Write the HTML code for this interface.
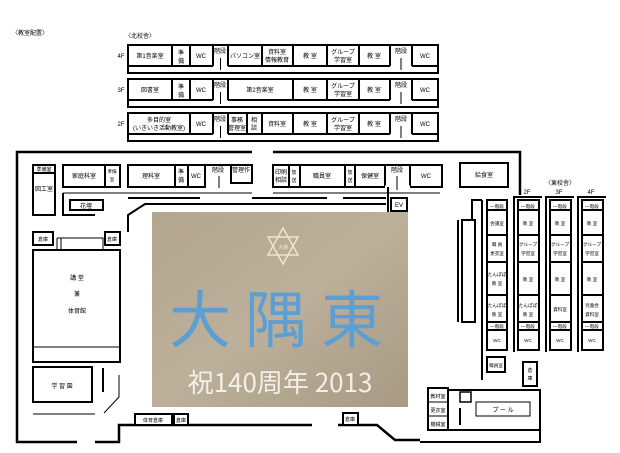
<!DOCTYPE html>
<html><head><meta charset="utf-8"><style>
html,body{margin:0;padding:0;background:#fff;}
svg{display:block}
text{font-family:"Liberation Sans","Noto Sans CJK JP",sans-serif;font-size:6px;fill:#000;text-anchor:middle}
.e text{font-size:4.6px}
.r{fill:#fff;stroke:#000;stroke-width:2}
.l{stroke:#000;stroke-width:2;fill:none}
.t{stroke:#000;stroke-width:1;fill:none}
</style></head><body>
<svg width="620" height="453" viewBox="0 0 620 453" xmlns="http://www.w3.org/2000/svg">
<text x="30" y="35" style="font-size:6px">〈教室配置〉</text>
<text x="140" y="38">〈北校舎〉</text>

<g>
<text x="121" y="58">4F</text>
<rect class="r" x="128" y="45" width="310" height="28"/>
<line class="l" x1="128" y1="66" x2="213" y2="66"/><line class="l" x1="228" y1="66" x2="390" y2="66"/><line class="l" x1="412" y1="66" x2="438" y2="66"/>
<path class="l" d="M172 45V66M190 45V66M213 45V66M228 45V66M262 45V66M293 45V66M327 45V66M359 45V66M390 45V66M412 45V66"/>
<line class="t" x1="220.5" y1="58" x2="220.5" y2="70"/><line class="t" x1="401" y1="58" x2="401" y2="70"/>
<text x="150" y="58">第1音楽室</text><text x="181" y="55">準</text><text x="181" y="63">備</text><text x="201" y="58">WC</text><text x="220" y="53">階段</text>
<text x="245" y="58">パソコン室</text><text x="277" y="54">資料室</text><text x="277" y="62">情報教育</text><text x="310" y="58">教 室</text><text x="343" y="54">グループ</text><text x="343" y="62">学習室</text><text x="374" y="58">教 室</text><text x="401" y="53">階段</text><text x="425" y="58">WC</text>
</g>
<g>
<text x="121" y="92">3F</text>
<rect class="r" x="128" y="79" width="310" height="28"/>
<line class="l" x1="128" y1="100" x2="213" y2="100"/><line class="l" x1="228" y1="100" x2="390" y2="100"/><line class="l" x1="412" y1="100" x2="438" y2="100"/>
<path class="l" d="M172 79V100M190 79V100M213 79V100M228 79V100M293 79V100M327 79V100M359 79V100M390 79V100M412 79V100"/>
<line class="t" x1="220.5" y1="92" x2="220.5" y2="104"/><line class="t" x1="401" y1="92" x2="401" y2="104"/>
<text x="150" y="92">図書室</text><text x="181" y="89">準</text><text x="181" y="97">備</text><text x="201" y="92">WC</text><text x="220" y="87">階段</text>
<text x="260" y="92">第2音楽室</text><text x="310" y="92">教 室</text><text x="343" y="88">グループ</text><text x="343" y="96">学習室</text><text x="374" y="92">教 室</text><text x="401" y="87">階段</text><text x="425" y="92">WC</text>
</g>
<g>
<text x="121" y="126">2F</text>
<rect class="r" x="128" y="113" width="310" height="28"/>
<line class="l" x1="128" y1="134" x2="213" y2="134"/><line class="l" x1="228" y1="134" x2="390" y2="134"/><line class="l" x1="412" y1="134" x2="438" y2="134"/>
<path class="l" d="M190 113V134M213 113V134M228 113V134M247 113V134M262 113V134M293 113V134M327 113V134M359 113V134M390 113V134M412 113V134"/>
<line class="t" x1="220.5" y1="126" x2="220.5" y2="138"/><line class="t" x1="401" y1="126" x2="401" y2="138"/>
<text x="159" y="122">多目的室</text><text x="159" y="130">(いきいき活動教室)</text><text x="201" y="126">WC</text><text x="220" y="121">階段</text>
<text x="237" y="122">事務</text><text x="237" y="130">管理室</text><text x="254" y="122">相</text><text x="254" y="130">談</text><text x="277" y="126">資料室</text><text x="310" y="126">教 室</text><text x="343" y="122">グループ</text><text x="343" y="130">学習室</text><text x="374" y="126">教 室</text><text x="401" y="121">階段</text><text x="425" y="126">WC</text>
</g>

<path d="M252 152H17V442H77M95 442H119V425H312M338 425H377L395 440H420" stroke="#000" stroke-width="2.5" fill="none"/>
<path d="M273 152H520V195" stroke="#000" stroke-width="2.5" fill="none"/>

<rect class="r" x="33" y="165" width="22" height="50"/><line class="l" x1="33" y1="173" x2="55" y2="173"/>
<text x="44" y="171" style="font-size:5px">準備室</text><text x="44" y="191">図工室</text>
<rect class="r" x="63" y="165" width="57" height="22"/><line class="l" x1="105" y1="165" x2="105" y2="187"/>
<text x="84" y="178">家庭科室</text><text x="112" y="173" style="font-size:4.5px">準備</text><text x="112" y="181" style="font-size:4.5px">室</text>
<rect class="r" x="128" y="165" width="77" height="22"/><path class="l" d="M175 165V187M188 165V187"/>
<line class="l" x1="205" y1="165" x2="230" y2="165"/>
<line class="t" x1="219" y1="176" x2="219" y2="188"/>
<rect class="r" x="231" y="165" width="21" height="18"/>
<text x="151" y="178">理科室</text><text x="181" y="174">準</text><text x="181" y="182">備</text><text x="196" y="178">WC</text><text x="218" y="172">階段</text><text x="241" y="172">管理作</text>
<rect class="r" x="273" y="165" width="169" height="22"/>
<path class="l" d="M289 165V187M300 165V187M345 165V187M355 165V187M385 165V187M410 165V187"/>
<line x1="385" y1="187" x2="410" y2="187" stroke="#fff" stroke-width="3"/>
<line class="t" x1="397" y1="176" x2="397" y2="190"/>
<text x="281" y="174">印刷</text><text x="281" y="182">相談</text><text x="294" y="174" style="font-size:5px">放</text><text x="294" y="182" style="font-size:5px">送</text>
<text x="322" y="178">職員室</text><text x="350" y="174" style="font-size:5px">放</text><text x="350" y="182" style="font-size:5px">送</text><text x="370" y="178">保健室</text><text x="397" y="172">階段</text><text x="426" y="178">WC</text>
<rect class="r" x="460" y="163" width="48" height="24"/><text x="484" y="177">給食室</text>

<path class="t" d="M63 193H252M273 193H440"/>
<path class="l" d="M128 198H200M252 198H327M343 198H386"/>
<path class="l" d="M63 193V215H95"/>
<rect class="r" x="70" y="200" width="33" height="10"/><text x="86" y="208">花壇</text>
<path class="l" d="M128 232V215L145 204H386"/>
<path class="l" d="M388 187V212"/>
<rect class="r" x="391" y="198" width="16" height="13"/><text x="399" y="207">EV</text>

<rect class="r" x="33" y="232" width="20" height="13"/><text x="43" y="241" style="font-size:5px">倉庫</text>
<rect class="r" x="105" y="232" width="15" height="13"/><text x="112" y="241" style="font-size:5px">倉庫</text>
<path class="t" d="M57 238V250M61 238V250M57 238H103V250"/>
<rect class="r" x="33" y="250" width="87" height="112"/><line class="t" x1="33" y1="347" x2="120" y2="347"/>
<text x="77" y="280">講 堂</text><text x="77" y="296">兼</text><text x="77" y="313">体育館</text>
<rect class="r" x="33" y="367" width="59" height="35"/><text x="62" y="388">学 習 園</text>
<path class="l" d="M103 368V392"/><path class="t" d="M119 375V397L104 413"/>
<path class="t" d="M33 414H95"/>
<rect class="r" x="135" y="414" width="37" height="11"/><text x="153" y="422" style="font-size:5px">体育倉庫</text>
<rect class="r" x="174" y="414" width="14" height="11"/><text x="181" y="422" style="font-size:5px">倉庫</text>
<rect class="r" x="343" y="413" width="15" height="12"/><text x="350" y="421" style="font-size:5px">倉庫</text>

<defs><linearGradient id="g" x1="0" y1="0" x2="1" y2="1"><stop offset="0" stop-color="#b4a68e"/><stop offset="0.5" stop-color="#bcb09b"/><stop offset="1" stop-color="#a89a84"/></linearGradient></defs>
<rect x="152" y="212" width="256" height="195" fill="url(#g)"/>
<g stroke="#eee4d0" stroke-width="1.5" fill="none"><polygon points="283,228 298,255 268,255"/><polygon points="283,264 298,237 268,237"/></g>
<text x="283" y="249" style="font-size:5px;fill:#eee4d0">大隅</text>
<text x="283" y="342" style="font-size:62px;fill:#5d9fd2;font-family:'Noto Sans CJK JP',sans-serif;font-weight:normal;letter-spacing:14px">大隅東</text>
<text x="280" y="392" style="font-size:26px;fill:#f4efe6;font-family:'Noto Sans CJK JP',sans-serif">祝140周年 2013</text>

<path class="l" d="M472 220V200H482"/>
<path class="l" d="M482 200V380"/>
<path class="l" d="M458 220V322"/>
<rect class="r" x="462" y="220" width="13" height="102"/>

<text x="560" y="185">〈東校舎〉</text><text x="527" y="194">2F</text><text x="559" y="194">3F</text><text x="591" y="194">4F</text>

<g class="e">
<rect class="r" x="487" y="200" width="20" height="150"/>
<path class="l" d="M487 210H507M487 235H507M487 262H507M487 295H507M487 322H507M487 330H507"/>
<text x="497" y="208">一階段</text><text x="497" y="225">会議室</text><text x="497" y="246">職 員</text><text x="497" y="255">更衣室</text>
<text x="497" y="276">たんぽぽ</text><text x="497" y="285">教 室</text><text x="497" y="307">たんぽぽ</text><text x="497" y="316">教 室</text><text x="497" y="328">一階段</text><text x="497" y="342">WC</text>
<rect class="r" x="487" y="357" width="18" height="15"/><text x="496" y="367">職員室</text>
</g>
<g class="e">
<path class="l" d="M514 352V197H542"/>
<rect class="r" x="518" y="200" width="21" height="150"/>
<path class="l" d="M518 210H539M518 235H539M518 262H539M518 295H539M518 322H539M518 330H539"/>
<text x="528" y="208">一階段</text><text x="528" y="225">教 室</text><text x="528" y="246">グループ</text><text x="528" y="255">学習室</text>
<text x="528" y="281">教 室</text><text x="528" y="307">たんぽぽ</text><text x="528" y="316">教 室</text><text x="528" y="328">一階段</text><text x="528" y="342">WC</text>
</g>
<g class="e">
<path class="l" d="M546 352V197H574"/>
<rect class="r" x="550" y="200" width="21" height="150"/>
<path class="l" d="M550 210H571M550 235H571M550 262H571M550 295H571M550 322H571M550 330H571"/>
<text x="560" y="208">一階段</text><text x="560" y="225">教 室</text><text x="560" y="246">グループ</text><text x="560" y="255">学習室</text>
<text x="560" y="281">教 室</text><text x="560" y="311">資料室</text><text x="560" y="328">一階段</text><text x="560" y="342">WC</text>
</g>
<g class="e">
<path class="l" d="M578 352V197H606"/>
<rect class="r" x="582" y="200" width="21" height="150"/>
<path class="l" d="M582 210H603M582 235H603M582 262H603M582 295H603M582 322H603M582 330H603"/>
<text x="592" y="208">一階段</text><text x="592" y="225">教 室</text><text x="592" y="246">グループ</text><text x="592" y="255">学習室</text>
<text x="592" y="281">教 室</text><text x="592" y="307">児童会</text><text x="592" y="316">資料室</text><text x="592" y="328">一階段</text><text x="592" y="342">WC</text>
</g>

<rect class="r" x="523" y="362" width="14" height="24"/><text x="530" y="372" style="font-size:5px">倉</text><text x="530" y="380" style="font-size:5px">庫</text>
<path class="l" d="M440 390H540V442H420"/>
<path class="l" d="M448 430H540"/>
<rect class="r" x="428" y="388" width="20" height="42"/><path class="t" d="M428 402H448M428 416H448"/>
<text x="438" y="398" style="font-size:5px">教材室</text><text x="438" y="412" style="font-size:5px">更衣室</text><text x="438" y="426" style="font-size:5px">機械室</text>
<rect class="r" x="460" y="392" width="11" height="10" style="stroke-width:1.5"/>
<line class="l" x1="460" y1="408" x2="460" y2="425"/>
<rect x="476" y="402" width="54" height="14" fill="#fff" stroke="#000" stroke-width="1"/><text x="503" y="412">プ ー ル</text>
</svg>
</body></html>
